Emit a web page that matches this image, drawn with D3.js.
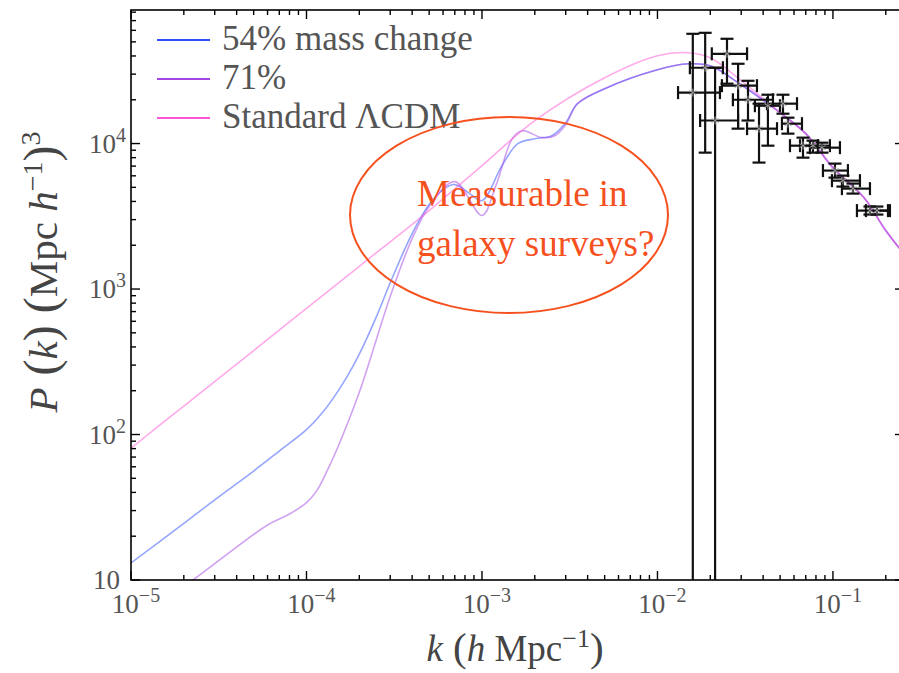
<!DOCTYPE html>
<meta charset="utf-8">
<style>
  body { margin: 0; background: #fff; }
  svg { display: block; font-family: "Liberation Serif", "DejaVu Serif", serif; }
  .tick-label { fill: #555; font-size: 27px; }
  .legend text { fill: #555; font-size: 35px; }
  .axis-title { fill: #444; }
  .curve { fill: none; stroke-width: 1.6; stroke-opacity: 0.5; }
  .err line { stroke: #111; stroke-width: 2.2; }
  .star line { stroke: #999; stroke-width: 1; }
  .note { fill: #f5501d; font-size: 37px; }
  .frame line { stroke: #000; }
</style>
<body>
<svg id="chart" width="899" height="673"></svg>
<script src="https://d3js.org/d3.v7.min.js"></script>
<script>

// ---- data ----
var kLcdm = [1e-5, 2e-5, 5e-5, 1e-4, 2e-4, 5e-4, 1e-3, 2e-3, 5e-3, 0.01, 0.015, 0.02, 0.03, 0.05, 0.07, 0.1, 0.15, 0.2, 0.25];
var pLcdm = [80.5, 157, 378, 736, 1434, 3464, 7050, 14360, 28300, 40100, 42100, 38870, 27040, 16290, 11700, 6834, 4253, 2523, 1782];

var k54 = [1e-5, 2e-5, 3e-5, 5e-5, 7e-5, 1e-4, 1.2e-4, 1.4e-4, 1.7e-4, 2e-4, 2.5e-4, 3e-4, 4e-4, 5e-4, 6e-4, 7e-4, 8.5e-4, 1e-3, 1.3e-3, 1.6e-3, 2e-3, 2.5e-3, 3e-3, 3.5e-3, 5e-3, 0.01, 0.015, 0.02, 0.03, 0.05, 0.07, 0.1, 0.15, 0.2, 0.25];
var p54 = [13.1, 24.5, 35.6, 56.1, 77, 108, 136, 173, 249, 357, 644, 1104, 2408, 3807, 4826, 5224, 4530, 4055, 7050, 9980, 10800, 11330, 13910, 18790, 23820, 32140, 35320, 34240, 25350, 16290, 11700, 6834, 4253, 2523, 1782];

var k71 = [1e-5, 3e-5, 6e-5, 8e-5, 1e-4, 1.15e-4, 1.3e-4, 1.5e-4, 2e-4, 3e-4, 4e-4, 5e-4, 7e-4, 1e-3, 1.2e-3, 1.5e-3, 1.7e-3, 2.2e-3, 2.6e-3, 3e-3, 3.5e-3, 5e-3, 0.01, 0.015, 0.02, 0.03, 0.05, 0.07, 0.1, 0.15, 0.2, 0.25];
var p71 = [4.75, 12.96, 23.9, 28.4, 34, 41.5, 55.1, 80.5, 195, 890, 2223, 3690, 5476, 3200, 5140, 10980, 12260, 10980, 11330, 13480, 18790, 23820, 32140, 35320, 34240, 25350, 16290, 11700, 6834, 4253, 2523, 1782];

// survey band powers with errors
var kObs   = [.0159, .0187, .0213, .0249, .0288, .0328, .0379, .0426, .0519, .0554, .0675, .0769, .0866, .1027, .1140, .1300, .1625, .1781];
var kObsLo = [.0131, .0153, .0175, .0204, .0233, .0269, .0324, .0359, .0421, .0512, .0569, .0649, .0739, .0877, .0987, .1125, .1370, .1542];
var kObsHi = [.0227, .0236, .0288, .0324, .0369, .0455, .0480, .0499, .0624, .0666, .0821, .0961, .1096, .1217, .1425, .1625, .2058, .2112];
var pObs   = [22400, 33200, 14400, 41400, 25000, 20000, 12660, 18200, 18800, 13700, 9670, 9670, 9370, 6520, 5560, 4900, 3460, 3460];
var pObsLo = [1, 8660, 1, 25800, 12660, 14400, 7400, 9670, 16040, 11700, 8000, 8660, 8660, 5830, 5060, 4530, 3250, 3250];
var pObsHi = [56800, 57700, 33200, 52500, 35350, 27000, 18800, 21660, 21660, 15060, 10980, 10470, 10140, 7280, 6020, 5310, 3690, 3690];

var legendLabels = ["54% mass change", "71%", "Standard \u039BCDM"];
var legendColors = ["#2e4dff", "#a646e6", "#ff56d6"];
var xTickExp = [-5, -4, -3, -2, -1];
var yTickExp = [1, 2, 3, 4];

// ---- layout ----
var pl = 131, pr = 904, pt = 10, pb = 580;

var svg = d3.select("#chart");

var x = d3.scaleLog().domain([1e-5, 0.254]).range([pl, pr]),
    y = d3.scaleLog().domain([10, Math.pow(10, 4.918)]).range([pb, pt]);

svg.append("defs").append("clipPath").attr("id", "plot")
  .append("rect")
    .attr("x", pl).attr("y", pt)
    .attr("width", pr - pl).attr("height", pb - pt);

var plot = svg.append("g").attr("clip-path", "url(#plot)");

var line = d3.line()
    .x(function(d) { return x(d[0]); })
    .y(function(d) { return y(d[1]); })
    .curve(d3.curveCatmullRom.alpha(0.5));

var series = [
  {k: k54, p: p54, color: legendColors[0]},
  {k: k71, p: p71, color: legendColors[1]},
  {k: kLcdm, p: pLcdm, color: legendColors[2]}
];

series.forEach(function(s) {
  plot.append("path")
    .attr("class", "curve")
    .attr("stroke", s.color)
    .attr("d", line(d3.zip(s.k, s.p)));
});

// error bars
var cap = 6.5;
var err = plot.append("g").attr("class", "err");
var stars = plot.append("g").attr("class", "star");
kObs.forEach(function(k, i) {
  var cx = x(k), cy = y(pObs[i]),
      x0 = x(kObsLo[i]), x1 = x(kObsHi[i]),
      y0 = y(pObsLo[i]), y1 = y(pObsHi[i]);
  for (var a = 0; a < 3; a++) {
    var ang = a * Math.PI / 3 + Math.PI / 2;
    stars.append("line")
      .attr("x1", cx - 4 * Math.cos(ang)).attr("y1", cy - 4 * Math.sin(ang))
      .attr("x2", cx + 4 * Math.cos(ang)).attr("y2", cy + 4 * Math.sin(ang));
  }
  err.append("line").attr("x1", x0).attr("x2", x1).attr("y1", cy).attr("y2", cy);
  err.append("line").attr("x1", cx).attr("x2", cx).attr("y1", y0).attr("y2", y1);
  err.append("line").attr("x1", cx - cap).attr("x2", cx + cap).attr("y1", y0).attr("y2", y0);
  err.append("line").attr("x1", cx - cap).attr("x2", cx + cap).attr("y1", y1).attr("y2", y1);
  err.append("line").attr("x1", x0).attr("x2", x0).attr("y1", cy - cap).attr("y2", cy + cap);
  err.append("line").attr("x1", x1).attr("x2", x1).attr("y1", cy - cap).attr("y2", cy + cap);
});

// frame and ticks (inward)
var frame = svg.append("g").attr("class", "frame");
frame.append("rect")
  .attr("x", pl).attr("y", pt)
  .attr("width", pr - pl).attr("height", pb - pt)
  .attr("fill", "none").attr("stroke", "#000").attr("stroke-width", 1.6);

var major = 9, minor = 5;
var xMinor = [], yMinor = [];
for (var e = -5; e < 0; e++) for (var m = 2; m < 10; m++) {
  var v = m * Math.pow(10, e);
  if (v < x.domain()[1]) xMinor.push(v);
}
for (var e2 = 1; e2 < 5; e2++) for (var m2 = 2; m2 < 10; m2++) {
  var w = m2 * Math.pow(10, e2);
  if (w < y.domain()[1]) yMinor.push(w);
}

function xTick(v, len) {
  frame.append("line").attr("x1", x(v)).attr("x2", x(v))
    .attr("y1", pb).attr("y2", pb - len).attr("stroke-width", 1.4);
  frame.append("line").attr("x1", x(v)).attr("x2", x(v))
    .attr("y1", pt).attr("y2", pt + len).attr("stroke-width", 1.4);
}
function yTick(v, len) {
  frame.append("line").attr("y1", y(v)).attr("y2", y(v))
    .attr("x1", pl).attr("x2", pl + len).attr("stroke-width", 1.4);
  frame.append("line").attr("y1", y(v)).attr("y2", y(v))
    .attr("x1", pr).attr("x2", pr - len).attr("stroke-width", 1.4);
}
xTickExp.forEach(function(e) { xTick(Math.pow(10, e), major); });
xMinor.forEach(function(v) { xTick(v, minor); });
yTickExp.forEach(function(e) { yTick(Math.pow(10, e), major); });
yMinor.forEach(function(v) { yTick(v, minor); });

// tick labels
xTickExp.forEach(function(e) {
  var t = svg.append("text").attr("class", "tick-label")
    .attr("x", x(Math.pow(10, e)) + 5).attr("y", 613)
    .attr("text-anchor", "middle");
  t.append("tspan").text("10");
  t.append("tspan").attr("dy", -11).attr("font-size", 20).text("\u2212" + (-e));
});
yTickExp.forEach(function(e) {
  var t = svg.append("text").attr("class", "tick-label")
    .attr("x", e === 1 ? 120 : 126).attr("y", y(Math.pow(10, e)) + 9)
    .attr("text-anchor", "end");
  t.append("tspan").text("10");
  if (e > 1) t.append("tspan").attr("dy", -11).attr("font-size", 20).text(e);
});

// axis titles
var xt = svg.append("text").attr("class", "axis-title")
  .attr("font-size", 37)
  .attr("x", 515).attr("y", 661).attr("text-anchor", "middle");
xt.append("tspan").attr("font-style", "italic").text("k");
xt.append("tspan").attr("font-size", 41).text(" (");
xt.append("tspan").attr("font-style", "italic").text("h");
xt.append("tspan").text(" Mpc");
xt.append("tspan").attr("dy", -14).attr("font-size", 26).text("\u22121");
xt.append("tspan").attr("dy", 14).attr("font-size", 41).text(")");

var yt = svg.append("text").attr("class", "axis-title")
  .attr("font-size", 41)
  .attr("transform", "translate(57,272) rotate(-90)")
  .attr("text-anchor", "middle");
yt.append("tspan").attr("font-style", "italic").text("P");
yt.append("tspan").attr("font-size", 48).text(" (");
yt.append("tspan").attr("font-style", "italic").text("k");
yt.append("tspan").attr("font-size", 48).text(") (");
yt.append("tspan").text("Mpc ");
yt.append("tspan").attr("font-style", "italic").text("h");
yt.append("tspan").attr("dy", -15).attr("font-size", 28).text("\u22121");
yt.append("tspan").attr("dy", 15).attr("font-size", 48).text(")");
yt.append("tspan").attr("dy", -17).attr("font-size", 28).text("3");

// legend
var lg = svg.append("g").attr("class", "legend");
legendLabels.forEach(function(lab, i) {
  var ly = 40 + i * 39;
  lg.append("line").attr("x1", 157).attr("x2", 210).attr("y1", ly).attr("y2", ly)
    .attr("stroke", legendColors[i]).attr("stroke-width", 2.2);
  lg.append("text").attr("x", 222).attr("y", ly + 10).text(lab);
});

// annotation
svg.append("ellipse")
  .attr("cx", 509).attr("cy", 215).attr("rx", 159).attr("ry", 98)
  .attr("fill", "none").attr("stroke", "#f5501d").attr("stroke-width", 2);
svg.append("text").attr("class", "note").attr("x", 417).attr("y", 206).text("Measurable in");
svg.append("text").attr("class", "note").attr("x", 417).attr("y", 256).text("galaxy surveys?");

</script>
</body>
